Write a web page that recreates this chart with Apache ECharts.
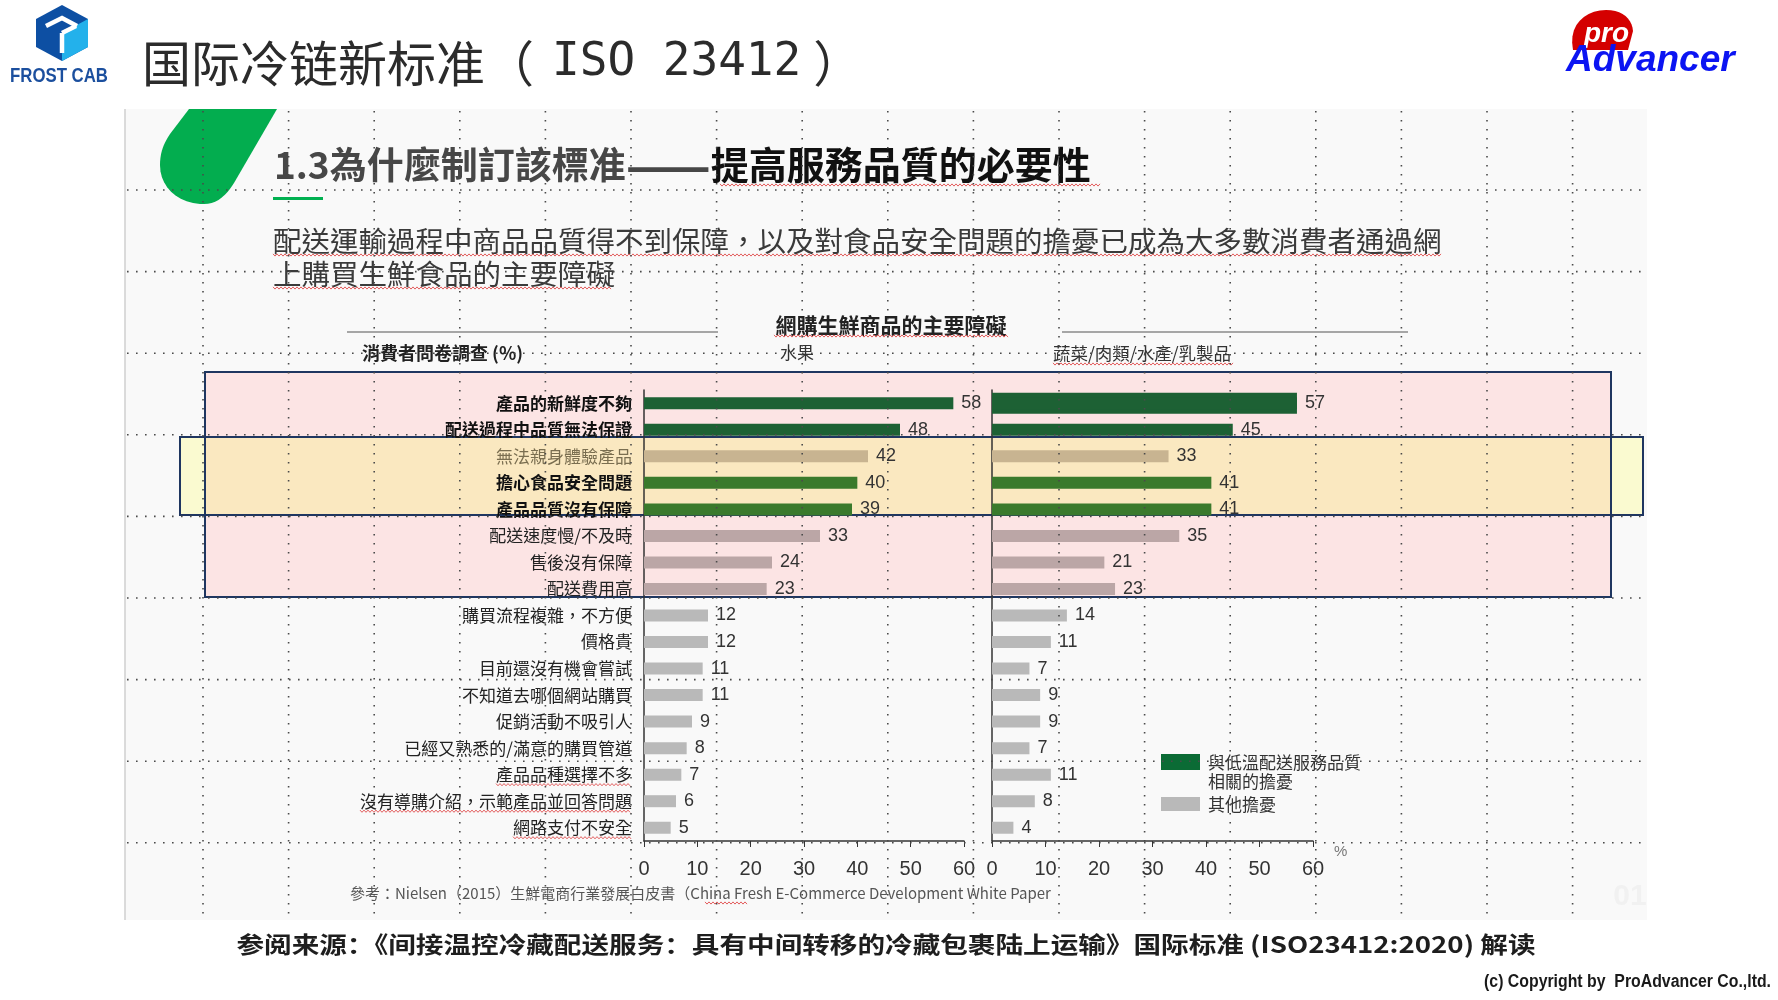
<!DOCTYPE html>
<html><head><meta charset="utf-8">
<script src="https://cdn.jsdelivr.net/npm/echarts@6/dist/echarts.min.js"></script>
<style>html,body{margin:0;padding:0;background:#fff;}#c{width:1778px;height:1000px;}</style>
</head><body><div id="c"></div>
<script>
// ---------------- data ----------------
const categories = [
  '產品的新鮮度不夠','配送過程中品質無法保證','無法親身體驗產品','擔心食品安全問題','產品品質沒有保障',
  '配送速度慢/不及時','售後沒有保障','配送費用高','購買流程複雜，不方便','價格貴',
  '目前還沒有機會嘗試','不知道去哪個網站購買','促銷活動不吸引人','已經又熟悉的/滿意的購買管道',
  '產品品種選擇不多','沒有導購介紹，示範產品並回答問題','網路支付不安全'
];
const fruitValues   = [58,48,42,40,39,33,24,23,12,12,11,11,9,8,7,6,5];
const produceValues = [57,45,33,41,41,35,21,23,14,11,7,9,9,7,11,8,4];
// 'cold' = 與低溫配送服務品質相關的擔憂, 'other' = 其他擔憂
const concernType = ['cold','cold','other','cold','cold','other','other','other','other','other','other','other','other','other','other','other','other'];
const axisTicks = [0,10,20,30,40,50,60];
const legendNames = ['與低溫配送服務品質\n相關的擔憂','其他擔憂'];
const panelTitles = ['水果','蔬菜/肉類/水產/乳製品'];

// ---------------- styling helpers ----------------
const PINK_ROWS = [0,7];
const YELLOW_ROWS = [2,4];
function inRange(i, r){ return i >= r[0] && i <= r[1]; }
function barColor(i){
  const yel = inRange(i, YELLOW_ROWS), pink = inRange(i, PINK_ROWS);
  if (concernType[i] === 'cold') return yel ? '#3a7a2c' : '#1d6134';
  if (yel) return '#c8b491';
  if (pink) return '#bba6a6';
  return '#b9b9b9';
}
const CJK_TC = '"Noto Sans CJK TC","Noto Sans CJK SC",sans-serif';
const CJK_SC = '"Noto Sans CJK SC",sans-serif';

function wave(x0, x1, y){
  const pts = []; let up = true;
  for (let x = x0; x <= x1; x += 2){ pts.push([x, y + (up ? -1.1 : 1.1)]); up = !up; }
  return {type:'polyline', shape:{points:pts}, style:{stroke:'#e35d5d', lineWidth:1, fill:null}, z:40, silent:true};
}
function samplePath(cmds){
  const pts = []; let cur = null;
  cmds.forEach(c => {
    if (c[0] === 'M' || c[0] === 'L'){ cur = [c[1], c[2]]; pts.push(cur); }
    else if (c[0] === 'C'){
      const [x0,y0] = cur;
      for (let t = 0.1; t <= 1.0001; t += 0.1){
        const u = 1 - t;
        pts.push([u*u*u*x0 + 3*u*u*t*c[1] + 3*u*t*t*c[3] + t*t*t*c[5],
                  u*u*u*y0 + 3*u*u*t*c[2] + 3*u*t*t*c[4] + t*t*t*c[6]]);
      }
      cur = [c[5], c[6]];
    }
  });
  return pts;
}
const mctx = document.createElement('canvas').getContext('2d');
function measure(t, font){ mctx.font = font; return mctx.measureText(t).width; }

// ---------------- geometry ----------------
const G0 = {left:644, width:320, top:390, height:451};
const G1 = {left:992, width:321, top:390, height:451};
const LABEL_FS = 17, LABEL_MARGIN = 12;

const graphics = [];
graphics.push({type:'rect', shape:{x:125,y:109,width:1522,height:811}, style:{fill:'#f9f9f9'}, z:-20, silent:true});
graphics.push({type:'line', shape:{x1:125,y1:109,x2:125,y2:920}, style:{stroke:'#cfcfcf',lineWidth:1.5}, z:-19, silent:true});
graphics.push({type:'rect', shape:{x:205,y:372,width:1406,height:225}, style:{fill:'#fce4e4'}, z:-15, silent:true});
graphics.push({type:'rect', shape:{x:180,y:437,width:1463,height:78}, style:{fill:'#fafad0'}, z:-14, silent:true});
graphics.push({type:'rect', shape:{x:205,y:437,width:1406,height:78}, style:{fill:'#fae8c0'}, z:-13, silent:true});
graphics.push({type:'rect', shape:{x:205,y:372,width:1406,height:225}, style:{fill:null,stroke:'#1f3660',lineWidth:2}, z:-12, silent:true});
graphics.push({type:'rect', shape:{x:180,y:437,width:1463,height:78}, style:{fill:null,stroke:'#1f3660',lineWidth:2}, z:-11, silent:true});

for (let k = 0; k < 17; k++){
  const x = 203 + 85.6*k;
  graphics.push({type:'line', shape:{x1:x,y1:111,x2:x,y2:920}, style:{stroke:'#4a4a4a',lineWidth:1.6,lineDash:[1.6,7.4]}, z:60, silent:true});
}
for (let k = 0; k < 9; k++){
  const y = 190 + 81.6*k;
  graphics.push({type:'line', shape:{x1:127,y1:y,x2:1645,y2:y}, style:{stroke:'#4a4a4a',lineWidth:1.6,lineDash:[1.6,7.4]}, z:60, silent:true});
}

// green leaf accent
graphics.push({type:'polygon', shape:{points:samplePath([
  ['M',189,109],['L',277,109],['L',234,183],['C',224,199,214,205,200,204],['C',176,202,160,186,160,165],['C',160,152,164,143,170,134],['L',189,109]
])}, style:{fill:'#03ad4f'}, z:-10, silent:true});

// header title
graphics.push({type:'text', z:10, style:{
  text:'{cn|国际冷链新标准}{p|（}{m|ISO 23412}{q|）}', x:142, y:63, verticalAlign:'middle', textVerticalAlign:'middle',
  rich:{cn:{fontSize:49,fontFamily:CJK_SC,fill:'#2b2b2b',color:'#2b2b2b'},
        p:{fontSize:49,fontFamily:CJK_SC,fill:'#2b2b2b',color:'#2b2b2b'},
        m:{fontSize:46,fontFamily:'"DejaVu Sans Mono",monospace',fill:'#2b2b2b',color:'#2b2b2b',padding:[0,12,0,18]},
        q:{fontSize:49,fontFamily:CJK_SC,fill:'#2b2b2b',color:'#2b2b2b'}}
}});
// FROST CAB logo
graphics.push({type:'polygon', shape:{points:[[62,5],[88,19],[88,47],[62,61],[36,47],[36,19]]}, style:{fill:'#0d4fa3'}, z:10, silent:true});
graphics.push({type:'polygon', shape:{points:[[62,33],[88,19],[88,47],[62,61]]}, style:{fill:'#23b1eb'}, z:11, silent:true});
[[[46,26],[62,18],[77,26]], [[62,33],[62,53]], [[62,33],[76,26]]].forEach(p => {
  graphics.push({type:'polyline', shape:{points:p}, style:{stroke:'#ffffff',lineWidth:4.5,fill:null}, z:12, silent:true});
});
graphics.push({type:'text', z:12, x:59, y:76, scaleX:0.84, style:{text:'FROST CAB', x:0, y:0, align:'center', textAlign:'center', verticalAlign:'middle', textVerticalAlign:'middle',
  fontSize:20, fontWeight:'bold', fontFamily:'"Liberation Sans",sans-serif', fill:'#1b4f9e'}});
// proAdvancer logo
graphics.push({type:'polygon', shape:{points:samplePath([
  ['M',1573,50],['C',1568,25,1585,10,1606,10],['C',1623,10,1632,19,1633,31],['L',1628,50]
])}, style:{fill:'#d40000'}, z:10, silent:true});
graphics.push({type:'text', z:11, style:{text:'pro', x:1584, y:34, verticalAlign:'middle', textVerticalAlign:'middle',
  fontSize:28, fontWeight:'bold', fontStyle:'italic', fontFamily:'"Liberation Sans",sans-serif', fill:'#ffffff'}});
graphics.push({type:'text', z:12, style:{text:'Advancer', x:1566, y:61, verticalAlign:'middle', textVerticalAlign:'middle',
  fontSize:37, fontWeight:'bold', fontStyle:'italic', fontFamily:'"Liberation Sans",sans-serif', fill:'#0b14f2'}});

// section title
graphics.push({type:'text', z:10, style:{
  text:'{a|1.3為什麼制訂該標准}{d|——}{b|提高服務品質的必要性}', x:274, y:165, verticalAlign:'middle', textVerticalAlign:'middle',
  rich:{a:{fontSize:37,fontWeight:'bold',fontFamily:CJK_TC,fill:'#474747',color:'#474747'},
        d:{fontSize:50,fontWeight:'bold',fontFamily:CJK_TC,fill:'#474747',color:'#474747'},
        b:{fontSize:38,fontWeight:'bold',fontFamily:CJK_TC,fill:'#111111',color:'#111111'}}
}});
graphics.push(wave(720, 1100, 185));
graphics.push({type:'rect', shape:{x:273,y:197,width:50,height:3}, style:{fill:'#00b050'}, z:10, silent:true});

// paragraph
graphics.push({type:'text', z:10, style:{text:'配送運輸過程中商品品質得不到保障，以及對食品安全問題的擔憂已成為大多數消費者通過網',
  x:273, y:241, verticalAlign:'middle', textVerticalAlign:'middle', fontSize:28.5, fontFamily:CJK_TC, fill:'#3a3a3a'}});
graphics.push({type:'text', z:10, style:{text:'上購買生鮮食品的主要障礙',
  x:273, y:274, verticalAlign:'middle', textVerticalAlign:'middle', fontSize:28.5, fontFamily:CJK_TC, fill:'#3a3a3a'}});
graphics.push(wave(273, 1441, 255));
graphics.push(wave(273, 612, 288));

// chart header
graphics.push({type:'text', z:10, style:{text:'網購生鮮商品的主要障礙', x:891, y:325, align:'center', textAlign:'center', verticalAlign:'middle', textVerticalAlign:'middle',
  fontSize:21, fontWeight:'bold', fontFamily:CJK_TC, fill:'#222'}});
graphics.push(wave(774, 1008, 336));
graphics.push({type:'line', shape:{x1:347,y1:332,x2:718,y2:332}, style:{stroke:'#8a8a8a',lineWidth:1.5}, z:10, silent:true});
graphics.push({type:'line', shape:{x1:1062,y1:332,x2:1408,y2:332}, style:{stroke:'#8a8a8a',lineWidth:1.5}, z:10, silent:true});
graphics.push({type:'text', z:10, style:{text:'消費者問卷調查 (%)', x:362, y:353, verticalAlign:'middle', textVerticalAlign:'middle',
  fontSize:18, fontWeight:'bold', fontFamily:CJK_TC, fill:'#222'}});
graphics.push({type:'text', z:10, style:{text:panelTitles[0], x:797, y:353, align:'center', textAlign:'center', verticalAlign:'middle', textVerticalAlign:'middle',
  fontSize:17, fontFamily:CJK_TC, fill:'#333'}});
graphics.push({type:'text', z:10, style:{text:panelTitles[1], x:1053, y:353, verticalAlign:'middle', textVerticalAlign:'middle',
  fontSize:17.5, fontFamily:CJK_TC, fill:'#333'}});
graphics.push(wave(1053, 1234, 364));

const rowStep = G0.height / categories.length;
[14,15,16].forEach(i => {
  const w = measure(categories[i], LABEL_FS + 'px ' + CJK_TC);
  const x1 = G0.left - LABEL_MARGIN, y = G0.top + (i + 0.5)*rowStep + 10;
  graphics.push(wave(x1 - w, x1, y));
});

graphics.push({type:'text', z:10, style:{text:'%', x:1334, y:852, verticalAlign:'middle', textVerticalAlign:'middle',
  fontSize:15, fontFamily:'"Liberation Sans",sans-serif', fill:'#777'}});

// legend
graphics.push({type:'rect', shape:{x:1161,y:754,width:39,height:16}, style:{fill:'#0b6b35'}, z:10, silent:true});
graphics.push({type:'text', z:10, style:{text:legendNames[0], x:1208, y:753, verticalAlign:'top', textVerticalAlign:'top',
  fontSize:17, lineHeight:19, fontFamily:CJK_TC, fill:'#333'}});
graphics.push({type:'rect', shape:{x:1161,y:797,width:39,height:14}, style:{fill:'#b9b9b9'}, z:10, silent:true});
graphics.push({type:'text', z:10, style:{text:legendNames[1], x:1208, y:805, verticalAlign:'middle', textVerticalAlign:'middle',
  fontSize:17, fontFamily:CJK_TC, fill:'#333'}});

graphics.push({type:'text', z:10, style:{text:'參考：Nielsen（2015）生鮮電商行業發展白皮書（China Fresh E-Commerce Development White Paper',
  x:350, y:893, verticalAlign:'middle', textVerticalAlign:'middle', fontSize:15, fontFamily:CJK_TC, fill:'#555'}});
graphics.push(wave(705, 748, 903));
graphics.push({type:'text', z:10, style:{text:'01', x:1630, y:897, align:'center', textAlign:'center', verticalAlign:'middle', textVerticalAlign:'middle',
  fontSize:30, fontWeight:'bold', fontFamily:'"Liberation Sans",sans-serif', fill:'#f1f1f1'}});

// footer
graphics.push({type:'text', z:10, x:886, y:944, scaleX:1.2, style:{text:'参阅来源：《间接温控冷藏配送服务：具有中间转移的冷藏包裹陆上运输》国际标准 (ISO23412:2020) 解读',
  x:0, y:0, align:'center', textAlign:'center', verticalAlign:'middle', textVerticalAlign:'middle',
  fontSize:23, fontWeight:'bold', fontFamily:CJK_SC, fill:'#1e1e1e'}});
graphics.push({type:'text', z:10, x:1771, y:982, scaleX:0.88, style:{text:'(c) Copyright by  ProAdvancer Co.,ltd.', x:0, y:0, align:'right', textAlign:'right', verticalAlign:'middle', textVerticalAlign:'middle',
  fontSize:18, fontWeight:'bold', fontFamily:'"Liberation Sans",sans-serif', fill:'#1a1a1a'}});

// ---------------- chart ----------------
function catLabel(value, index){
  if (concernType[index] === 'cold') return '{b|' + value + '}';
  if (inRange(index, YELLOW_ROWS)) return '{m|' + value + '}';
  return '{n|' + value + '}';
}
function xAxisOf(gi){
  return {gridIndex:gi, type:'value', min:axisTicks[0], max:axisTicks[axisTicks.length-1], interval:axisTicks[1]-axisTicks[0],
    axisLine:{show:true, lineStyle:{color:'#333', width:1.5}},
    axisTick:{show:true, length:6, lineStyle:{color:'#333'}},
    splitLine:{show:false},
    axisLabel:{fontSize:20, color:'#333', margin:18, fontFamily:'"Liberation Sans",sans-serif'}};
}
function yAxisOf(gi, showLabels, showLine){
  return {gridIndex:gi, type:'category', data:categories, inverse:true,
    axisLine:{show:showLine, lineStyle:{color:'#333', width:1.5}},
    axisTick:{show:false}, splitLine:{show:false},
    axisLabel:{show:showLabels, margin:LABEL_MARGIN, formatter:catLabel,
      rich:{
        b:{fontSize:LABEL_FS, fontWeight:'bold', fontFamily:CJK_TC, color:'#111'},
        m:{fontSize:LABEL_FS, fontFamily:CJK_TC, color:'#7a6e50'},
        n:{fontSize:LABEL_FS, fontFamily:CJK_TC, color:'#222'}
      }}};
}
function seriesOf(name, gi, values){
  return {name:name, type:'bar', xAxisIndex:gi, yAxisIndex:gi, barWidth:12,
    data: values.map((v,i) => ({value:v, itemStyle:{color:barColor(i)}})),
    label:{show:true, position:'right', distance:8, fontSize:18, color:'#333', fontFamily:'"Liberation Sans",sans-serif'},
    animation:false, z:5};
}
// the top produce bar is drawn thicker in the source figure
const thickTop = {name:panelTitles[1], type:'bar', xAxisIndex:1, yAxisIndex:2, barWidth:21,
  data: produceValues.map((v,i) => i === 0 ? {value:v, itemStyle:{color:barColor(i)}} : '-'),
  label:{show:false}, animation:false, z:4};

const chart = echarts.init(document.getElementById('c'));
chart.setOption({
  animation:false,
  backgroundColor:'#ffffff',
  grid:[G0, G1].map(g => Object.assign({containLabel:false}, g)),
  xAxis:[xAxisOf(0), xAxisOf(1)],
  yAxis:[yAxisOf(0, true, true), yAxisOf(1, false, true), yAxisOf(1, false, false)],
  series:[seriesOf(panelTitles[0], 0, fruitValues), seriesOf(panelTitles[1], 1, produceValues), thickTop],
  graphic:{elements:graphics}
});
</script>
</body></html>
